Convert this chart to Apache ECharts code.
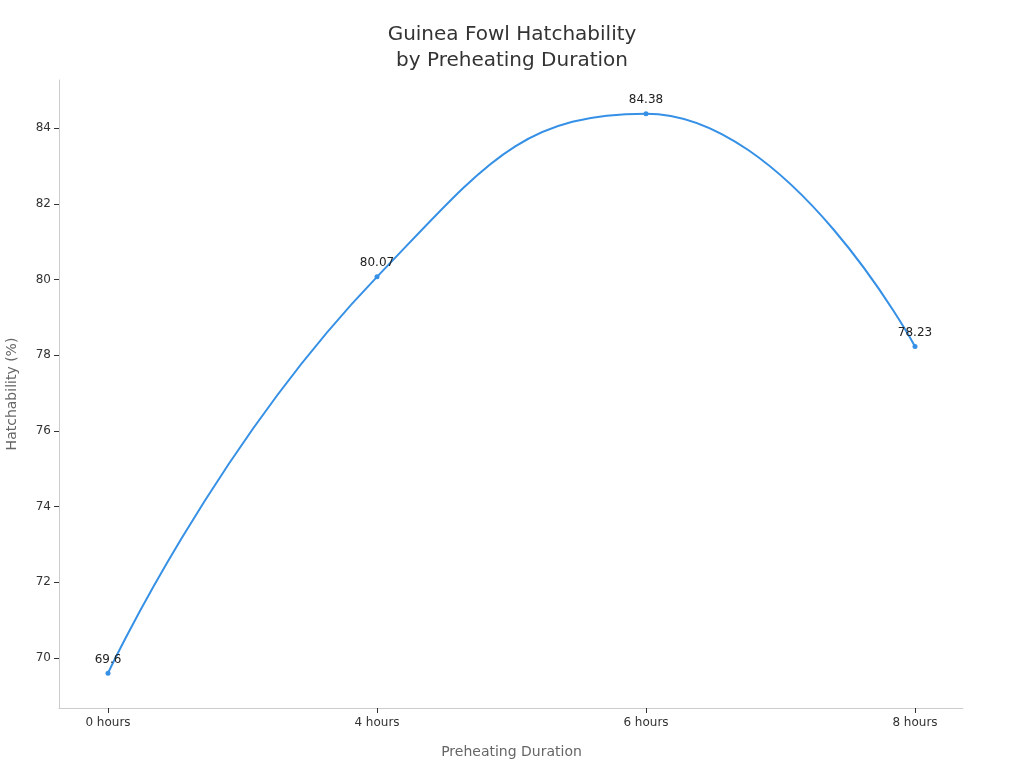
<!DOCTYPE html>
<html><head><meta charset="utf-8">
<script src="https://cdn.jsdelivr.net/npm/echarts@6/dist/echarts.min.js"></script>
<style>html,body{margin:0;padding:0;background:#fff}#c{width:1024px;height:768px}</style>
</head><body><div id="c"></div>
<script>
const categories = ["0 hours", "4 hours", "6 hours", "8 hours"];
const hatchability = [69.6, 80.07, 84.38, 78.23];
const yTicks = [70, 72, 74, 76, 78, 80, 82, 84];
const chart = echarts.init(document.getElementById('c'));
const font = "'DejaVu Sans', sans-serif";
chart.setOption({
  backgroundColor: '#fff',
  textStyle: {fontFamily: font},
  title: {
    text: 'Guinea Fowl Hatchability\nby Preheating Duration',
    left: 'center', top: 17,
    textStyle: {fontSize: 20, fontWeight: 'normal', color: '#333', lineHeight: 26, fontFamily: font}
  },
  grid: [
    {left: 108, right: 109, top: 80, bottom: 60, containLabel: false, outerBoundsMode: 'none'},
    {left: 59, right: 61, top: 80, bottom: 60, containLabel: false, outerBoundsMode: 'none'}
  ],
  xAxis: [{
    type: 'category', data: categories, boundaryGap: false, gridIndex: 0,
    axisLine: {show: false},
    axisTick: {show: true, alignWithLabel: true, length: 5, lineStyle: {color: '#333'}},
    axisLabel: {color: '#333', fontSize: 12, margin: 9},
    name: 'Preheating Duration', nameLocation: 'middle', nameGap: 37,
    nameTextStyle: {color: '#666', fontSize: 14}
  }, {
    type: 'value', gridIndex: 1, min: 0, max: 1,
    axisLine: {show: true, lineStyle: {color: '#ccc'}},
    axisTick: {show: false}, axisLabel: {show: false}, splitLine: {show: false}
  }],
  yAxis: [{
    type: 'value', gridIndex: 0, offset: 49,
    min: 68.68, max: 85.27,
    axisLine: {show: true, lineStyle: {color: '#ccc'}},
    axisTick: {show: true, length: 5, lineStyle: {color: '#333'}, customValues: yTicks},
    axisLabel: {color: '#333', fontSize: 12, margin: 8, customValues: yTicks},
    splitLine: {show: false},
    name: 'Hatchability (%)', nameLocation: 'middle', nameGap: 40,
    nameTextStyle: {color: '#666', fontSize: 14}
  }, {
    type: 'value', gridIndex: 1, show: false
  }],
  series: [{
    type: 'line', data: hatchability, smooth: true,
    xAxisIndex: 0, yAxisIndex: 0,
    symbol: 'circle', symbolSize: 5,
    itemStyle: {color: '#3590e6'},
    lineStyle: {color: '#3590e6', width: 2},
    label: {show: true, position: 'top', distance: 5, color: '#222', fontSize: 12}
  }]
});
</script></body></html>
